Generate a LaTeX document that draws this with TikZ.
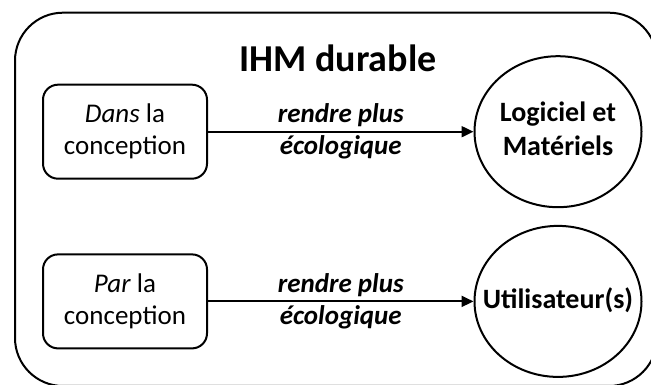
\documentclass[tikz,border=0pt]{standalone}
\usepackage{fontspec}
\setmainfont{Carlito}
\usetikzlibrary{shapes.geometric,arrows.meta}
\tikzset{
  frame/.style={line width=2pt, rounded corners=48pt},
  sbox/.style={draw, line width=2pt, rounded corners=15pt, minimum width=164pt, minimum height=94pt, inner sep=0pt, align=center, font=\fontsize{27}{32}\selectfont},
  oval/.style={draw, ellipse, line width=2pt, minimum width=167pt, minimum height=151pt, inner sep=0pt, font=\fontsize{28}{34}\selectfont\bfseries},
  conn/.style={line width=2pt, -{Triangle[length=12pt,width=11pt]}},
  lbl/.style={anchor=base, inner sep=0pt, font=\fontsize{27}{32}\selectfont\bfseries\itshape},
  ttl/.style={anchor=base, inner sep=0pt, font=\fontsize{38}{44}\selectfont\bfseries}
}
\newcommand{\ovaltext}[1]{\makebox[0pt][c]{\begin{tabular}{@{}c@{}}#1\end{tabular}}}
\begin{document}
\begin{tikzpicture}[x=1pt,y=1pt]
\useasboundingbox (0,0) rectangle (651,385);
\clip (0,0) rectangle (651,385);
\fill[white] (0,0) rectangle (651,385);
\draw[frame] (15,-1) rectangle (657,372.3);
\node[ttl] (title) at (338,313.3) {IHM durable};
\node[sbox] (b1) at (125,253.3) {\textit{Dans} la\\conception};
\node[sbox] (b2) at (125,83.6) {\textit{Par} la\\conception};
\node[oval] (e1) at (558,253.3) {\ovaltext{Logiciel et\\Matériels}};
\node[oval] (e2) at (558,83.6) {\ovaltext{Utilisateur(s)}};
\draw[conn] (b1.east) -- node[lbl, yshift=8.7pt] (l1a) {rendre plus} node[lbl, yshift=-23.3pt] (l1b) {écologique} (e1.west);
\draw[conn] (b2.east) -- node[lbl, yshift=8.7pt] (l2a) {rendre plus} node[lbl, yshift=-23.3pt] (l2b) {écologique} (e2.west);
\end{tikzpicture}
\end{document}
